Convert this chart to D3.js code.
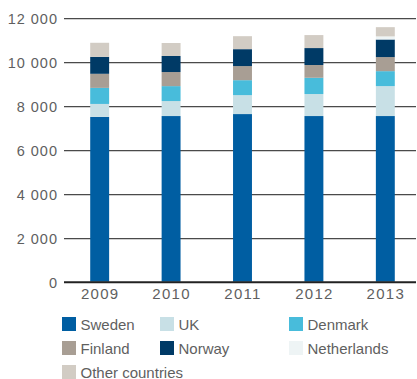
<!DOCTYPE html>
<html>
<head>
<meta charset="utf-8">
<script src="https://cdn.jsdelivr.net/npm/d3@7/dist/d3.min.js"></script>
<style>
  html, body { margin: 0; padding: 0; background: #fff; }
  svg { display: block; }
  text { font-family: "Liberation Sans", Arial, sans-serif; fill: #5f5f5f; }
</style>
</head>
<body>
<svg id="chart" width="417" height="379"></svg>
<script>
// Employees by country, stacked per year
const years = ["2009", "2010", "2011", "2012", "2013"];
const countries = ["Sweden", "UK", "Denmark", "Finland", "Norway", "Netherlands", "Other countries"];
const sweden      = [7490, 7530, 7620, 7530, 7530];
const uk          = [590, 680, 860, 1000, 1360];
const denmark     = [730, 680, 680, 740, 680];
const finland     = [640, 640, 640, 580, 640];
const norway      = [770, 730, 770, 770, 800];
const netherlands = [0, 0, 0, 0, 140];
const other       = [640, 590, 590, 590, 420];
const yTicks = [0, 2000, 4000, 6000, 8000, 10000, 12000];
const colors = ["#005ea2", "#c8e0e6", "#48bcdb", "#a89e94", "#003a66", "#eef4f5", "#d2ccc4"];

const seriesValues = [sweden, uk, denmark, finland, norway, netherlands, other];
const rows = years.map((y, i) => {
  const r = { year: y };
  countries.forEach((c, k) => { r[c] = seriesValues[k][i]; });
  return r;
});

const svg = d3.select("#chart");
const plotLeft = 64, plotRight = 416, plotTop = 17.7, plotBottom = 281.7;

const x = d3.scaleBand().domain(years).range([64, 421]).paddingInner(0.735).paddingOuter(0.367);
const y = d3.scaleLinear().domain([0, 12000]).range([plotBottom, plotTop]);

// gridlines
const grid = svg.append("g");
yTicks.filter(t => t > 0).forEach(t => {
  grid.append("line").attr("x1", plotLeft).attr("x2", plotRight)
    .attr("y1", Math.round(y(t)) + 0.5).attr("y2", Math.round(y(t)) + 0.5)
    .attr("stroke", "#4a4a4a").attr("stroke-width", 1);
  grid.append("line").attr("x1", plotLeft).attr("x2", plotRight)
    .attr("y1", Math.round(y(t)) + 1.5).attr("y2", Math.round(y(t)) + 1.5)
    .attr("stroke", "#d0d0d0").attr("stroke-width", 1);
});

// y axis labels, space as thousands separator
const yAxis = d3.axisLeft(y).tickValues(yTicks).tickSize(0).tickPadding(0)
  .tickFormat(d => d3.format(",")(d).replace(/,/g, " "));
const yg = svg.append("g").attr("transform", `translate(58,1)`).call(yAxis);
yg.select(".domain").remove();
yg.selectAll("text").attr("font-size", 14.5).attr("font-family", "Liberation Sans")
  .attr("letter-spacing", 1).attr("fill", "#5f5f5f");

// stacked bars
const stack = d3.stack().keys(countries);
const layers = stack(rows);
svg.append("g").selectAll("g").data(layers).join("g")
  .attr("fill", (d, i) => colors[i])
  .selectAll("rect").data(d => d).join("rect")
  .attr("x", d => x(d.data.year))
  .attr("width", x.bandwidth())
  .attr("y", d => y(d[1]))
  .attr("height", d => Math.max(0, y(d[0]) - y(d[1])));

// baseline
svg.append("line").attr("x1", plotLeft).attr("x2", plotRight)
  .attr("y1", plotBottom + 0.5).attr("y2", plotBottom + 0.5)
  .attr("stroke", "#222").attr("stroke-width", 2);

// x axis labels
const xAxis = d3.axisBottom(x).tickSize(0).tickPadding(0);
const xg = svg.append("g").attr("transform", `translate(0.5,${plotBottom + 7})`).call(xAxis);
xg.select(".domain").remove();
xg.selectAll("text").attr("font-size", 15).attr("font-family", "Liberation Sans")
  .attr("letter-spacing", 1.3).attr("fill", "#5f5f5f");

// legend
const legendCols = [62, 160, 289];
const legend = svg.append("g");
countries.forEach((c, i) => {
  const col = i % 3, row = Math.floor(i / 3);
  const gx = legendCols[col], gy = 317 + row * 24;
  legend.append("rect").attr("x", gx).attr("y", gy).attr("width", 14).attr("height", 14).attr("fill", colors[i]);
  legend.append("text").attr("x", gx + 18.5).attr("y", gy + 12.5).attr("font-size", 15).text(c);
});
</script>
</body>
</html>
